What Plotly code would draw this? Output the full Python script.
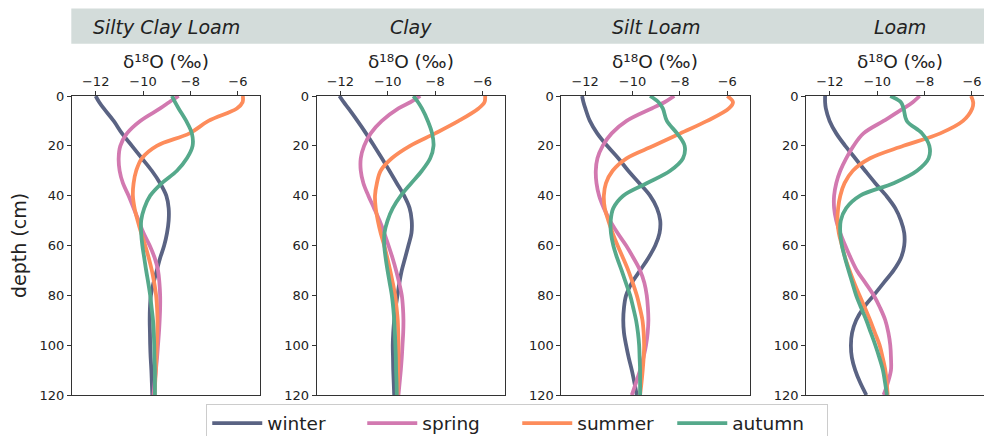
import plotly.graph_objects as go

# ---- data -------------------------------------------------------------
depth = [0, 2.5, 5, 10, 15, 20, 25, 30, 35, 40, 45, 50, 55, 60, 65, 70,
         75, 80, 85, 90, 95, 100, 105, 110, 115, 120]

soils = ["Silty Clay Loam", "Clay", "Silt Loam", "Loam"]
seasons = ["winter", "spring", "summer", "autumn"]
season_colors = ["#5a6383", "#d279b0", "#fd8c5b", "#55a98b"]

# Silty Clay Loam
scl_winter = [-12.0, -11.85, -11.66, -11.24, -10.89, -10.47, -10.05, -9.63, -9.28, -9.02, -8.92, -8.92, -8.99,
              -9.11, -9.28, -9.42, -9.56, -9.67, -9.71, -9.72, -9.71, -9.70, -9.68, -9.65, -9.63, -9.61]
scl_spring = [-8.50, -8.90, -9.28, -10.12, -10.68, -10.96, -11.03, -10.99, -10.85, -10.61, -10.40, -10.19, -9.98,
              -9.72, -9.51, -9.37, -9.31, -9.28, -9.28, -9.30, -9.33, -9.37, -9.41, -9.46, -9.51, -9.56]
scl_summer = [-5.79, -5.80, -6.04, -7.24, -8.04, -9.42, -10.05, -10.29, -10.40, -10.43, -10.36, -10.23, -10.08,
              -9.91, -9.76, -9.63, -9.53, -9.45, -9.41, -9.39, -9.40, -9.42, -9.44, -9.46, -9.49, -9.51]
scl_autumn = [-8.78, -8.65, -8.50, -8.18, -7.94, -7.91, -8.15, -8.57, -9.21, -9.70, -9.95, -10.08, -10.08,
              -10.03, -9.95, -9.87, -9.78, -9.70, -9.64, -9.58, -9.55, -9.53, -9.52, -9.50, -9.50, -9.50]

# Clay
cl_winter = [-12.04, -11.86, -11.66, -11.28, -10.92, -10.58, -10.25, -9.93, -9.62, -9.31, -9.08, -8.99, -9.00,
             -9.13, -9.27, -9.41, -9.51, -9.59, -9.67, -9.73, -9.77, -9.79, -9.78, -9.77, -9.75, -9.73]
cl_spring = [-8.63, -9.05, -9.55, -10.25, -10.72, -11.00, -11.14, -11.14, -11.03, -10.82, -10.58, -10.35, -10.15,
             -9.97, -9.80, -9.65, -9.52, -9.41, -9.36, -9.34, -9.35, -9.38, -9.41, -9.45, -9.50, -9.55]
cl_summer = [-5.89, -5.92, -6.17, -7.01, -8.00, -9.06, -9.83, -10.30, -10.46, -10.54, -10.51, -10.42, -10.30,
             -10.15, -10.02, -9.90, -9.79, -9.69, -9.63, -9.58, -9.56, -9.55, -9.55, -9.56, -9.57, -9.59]
cl_autumn = [-8.92, -8.72, -8.56, -8.31, -8.13, -8.07, -8.21, -8.56, -9.01, -9.45, -9.79, -10.01, -10.14,
             -10.15, -10.09, -10.01, -9.92, -9.83, -9.77, -9.73, -9.70, -9.68, -9.66, -9.65, -9.63, -9.62]

# Silt Loam
sl_winter = [-12.13, -12.07, -11.99, -11.80, -11.49, -11.07, -10.60, -10.18, -9.71, -9.26, -8.97, -8.83, -8.86,
             -9.04, -9.33, -9.68, -10.03, -10.27, -10.36, -10.39, -10.36, -10.27, -10.16, -10.03, -9.92, -9.82]
sl_spring = [-8.24, -8.65, -9.19, -10.25, -10.88, -11.26, -11.48, -11.55, -11.52, -11.41, -11.21, -10.95, -10.63,
             -10.27, -9.96, -9.68, -9.50, -9.40, -9.35, -9.33, -9.36, -9.43, -9.54, -9.68, -9.85, -10.03]
sl_summer = [-6.00, -5.76, -5.93, -6.85, -7.98, -9.11, -10.25, -10.84, -11.12, -11.21, -11.17, -11.02, -10.84,
             -10.63, -10.40, -10.18, -9.99, -9.82, -9.69, -9.58, -9.53, -9.51, -9.53, -9.57, -9.62, -9.68]
sl_autumn = [-9.26, -8.90, -8.72, -8.55, -8.12, -7.80, -7.87, -8.41, -9.40, -10.39, -10.81, -10.92, -10.91,
             -10.81, -10.65, -10.46, -10.28, -10.10, -9.97, -9.85, -9.77, -9.72, -9.70, -9.68, -9.68, -9.68]

# Loam
lo_winter = [-12.20, -12.20, -12.17, -12.01, -11.73, -11.35, -10.93, -10.51, -10.08, -9.62, -9.24, -9.00, -8.86,
             -8.86, -9.00, -9.31, -9.73, -10.15, -10.58, -10.89, -11.06, -11.11, -11.07, -10.93, -10.72, -10.46]
lo_spring = [-8.21, -8.50, -8.89, -9.73, -10.58, -11.00, -11.31, -11.56, -11.73, -11.82, -11.82, -11.73, -11.56,
             -11.35, -11.12, -10.86, -10.50, -10.15, -9.88, -9.66, -9.53, -9.45, -9.42, -9.42, -9.55, -9.73]
lo_summer = [-6.04, -5.95, -5.99, -6.38, -7.34, -8.89, -10.30, -11.03, -11.38, -11.56, -11.65, -11.68, -11.62,
             -11.49, -11.35, -11.17, -10.97, -10.75, -10.52, -10.30, -10.10, -9.90, -9.77, -9.66, -9.60, -9.56]
lo_autumn = [-9.45, -9.00, -8.89, -8.75, -8.11, -7.80, -7.83, -8.32, -9.31, -10.72, -11.31, -11.54, -11.56,
             -11.49, -11.36, -11.21, -11.05, -10.89, -10.68, -10.46, -10.27, -10.08, -9.91, -9.76, -9.67, -9.59]

profiles = [
    [scl_winter, scl_spring, scl_summer, scl_autumn],
    [cl_winter, cl_spring, cl_summer, cl_autumn],
    [sl_winter, sl_spring, sl_summer, sl_autumn],
    [lo_winter, lo_spring, lo_summer, lo_autumn],
]

x_ticks = [-12, -10, -8, -6]
depth_ticks = [0, 20, 40, 60, 80, 100, 120]
x_title = "δ¹⁸O (‰)"
y_title = "depth (cm)"

# ---- geometry (pixels) --------------------------------------------------
W, H = 984, 436
ML, MR, MT, MB = 71.7, 0, 96, 40.7
PW = W - ML - MR
PH = H - MT - MB

def fx(px):
    return (px - ML) / PW

def fy(py):
    return (H - MB - py) / PH

panel_left = [71.7, 316.5, 561.3, 806.1]
panel_w = 188.4
x_lo, x_hi = -13.0, -5.05
unit = panel_w / (x_hi - x_lo)

FONT = "DejaVu Sans"
AXIS_COL = "#333333"
TEXT_COL = "#222222"

fig = go.Figure()

for p, soil in enumerate(soils):
    xa = "x" if p == 0 else f"x{p + 1}"
    ya = "y" if p == 0 else f"y{p + 1}"
    for s, season in enumerate(seasons):
        fig.add_trace(go.Scatter(
            x=profiles[p][s], y=depth, mode="lines",
            line=dict(color=season_colors[s], width=3.8, shape="spline", smoothing=1.0),
            name=season, legendgroup=season, showlegend=(p == 0),
            xaxis=xa, yaxis=ya,
        ))

    left = panel_left[p]
    right = min(left + panel_w, W)
    rng_hi = x_lo + (right - left) / unit
    ax_key = "xaxis" if p == 0 else f"xaxis{p + 1}"
    ay_key = "yaxis" if p == 0 else f"yaxis{p + 1}"
    fig.layout[ax_key] = dict(
        domain=[fx(left), fx(right)], range=[x_lo, rng_hi], anchor=ya,
        side="top", tickvals=x_ticks, ticks="outside", ticklen=4, tickwidth=1,
        tickcolor=AXIS_COL, showline=True, linecolor=AXIS_COL, linewidth=1,
        mirror=True, showgrid=False, zeroline=False,
        tickfont=dict(family=FONT, size=13, color=TEXT_COL),
    )
    fig.layout[ay_key] = dict(
        domain=[0, 1], range=[120, 0], anchor=xa,
        tickvals=depth_ticks, ticks="outside", ticklen=4, tickwidth=1,
        tickcolor=AXIS_COL, showline=True, linecolor=AXIS_COL, linewidth=1,
        mirror=(p < 3), showgrid=False, zeroline=False,
        tickfont=dict(family=FONT, size=13, color=TEXT_COL),
    )
    centre = fx(left + panel_w / 2)
    # soil name in the header band
    fig.add_annotation(
        text=f"<i>{soil}</i>", xref="paper", yref="paper",
        x=centre, y=fy(27), xanchor="center", yanchor="middle",
        showarrow=False, font=dict(family=FONT, size=19, color=TEXT_COL),
    )
    # isotope axis label above the top ticks
    fig.add_annotation(
        text=x_title, xref="paper", yref="paper",
        x=fx(left + 94), y=fy(61.5), xanchor="center", yanchor="middle",
        showarrow=False, font=dict(family=FONT, size=18.5, color=TEXT_COL),
    )

fig.layout.yaxis.title = dict(text=y_title, font=dict(family=FONT, size=19, color=TEXT_COL), standoff=7)

# grey header band behind the soil names
fig.add_shape(type="rect", xref="paper", yref="paper", layer="below",
              x0=fx(71), x1=fx(W), y0=fy(43.7), y1=fy(8.3),
              fillcolor="#d3dcda", line=dict(width=0))

fig.update_layout(
    width=W, height=H,
    margin=dict(l=ML, r=MR, t=MT, b=MB, autoexpand=False),
    paper_bgcolor="white", plot_bgcolor="white",
    legend=dict(
        orientation="h", x=fx(206), y=fy(404), xanchor="left", yanchor="top",
        font=dict(family=FONT, size=18.5, color=TEXT_COL),
        bordercolor="#cccccc", borderwidth=1, bgcolor="white",
        itemwidth=50, entrywidth=90, traceorder="normal",
    ),
)

fig.write_html("out.html")
